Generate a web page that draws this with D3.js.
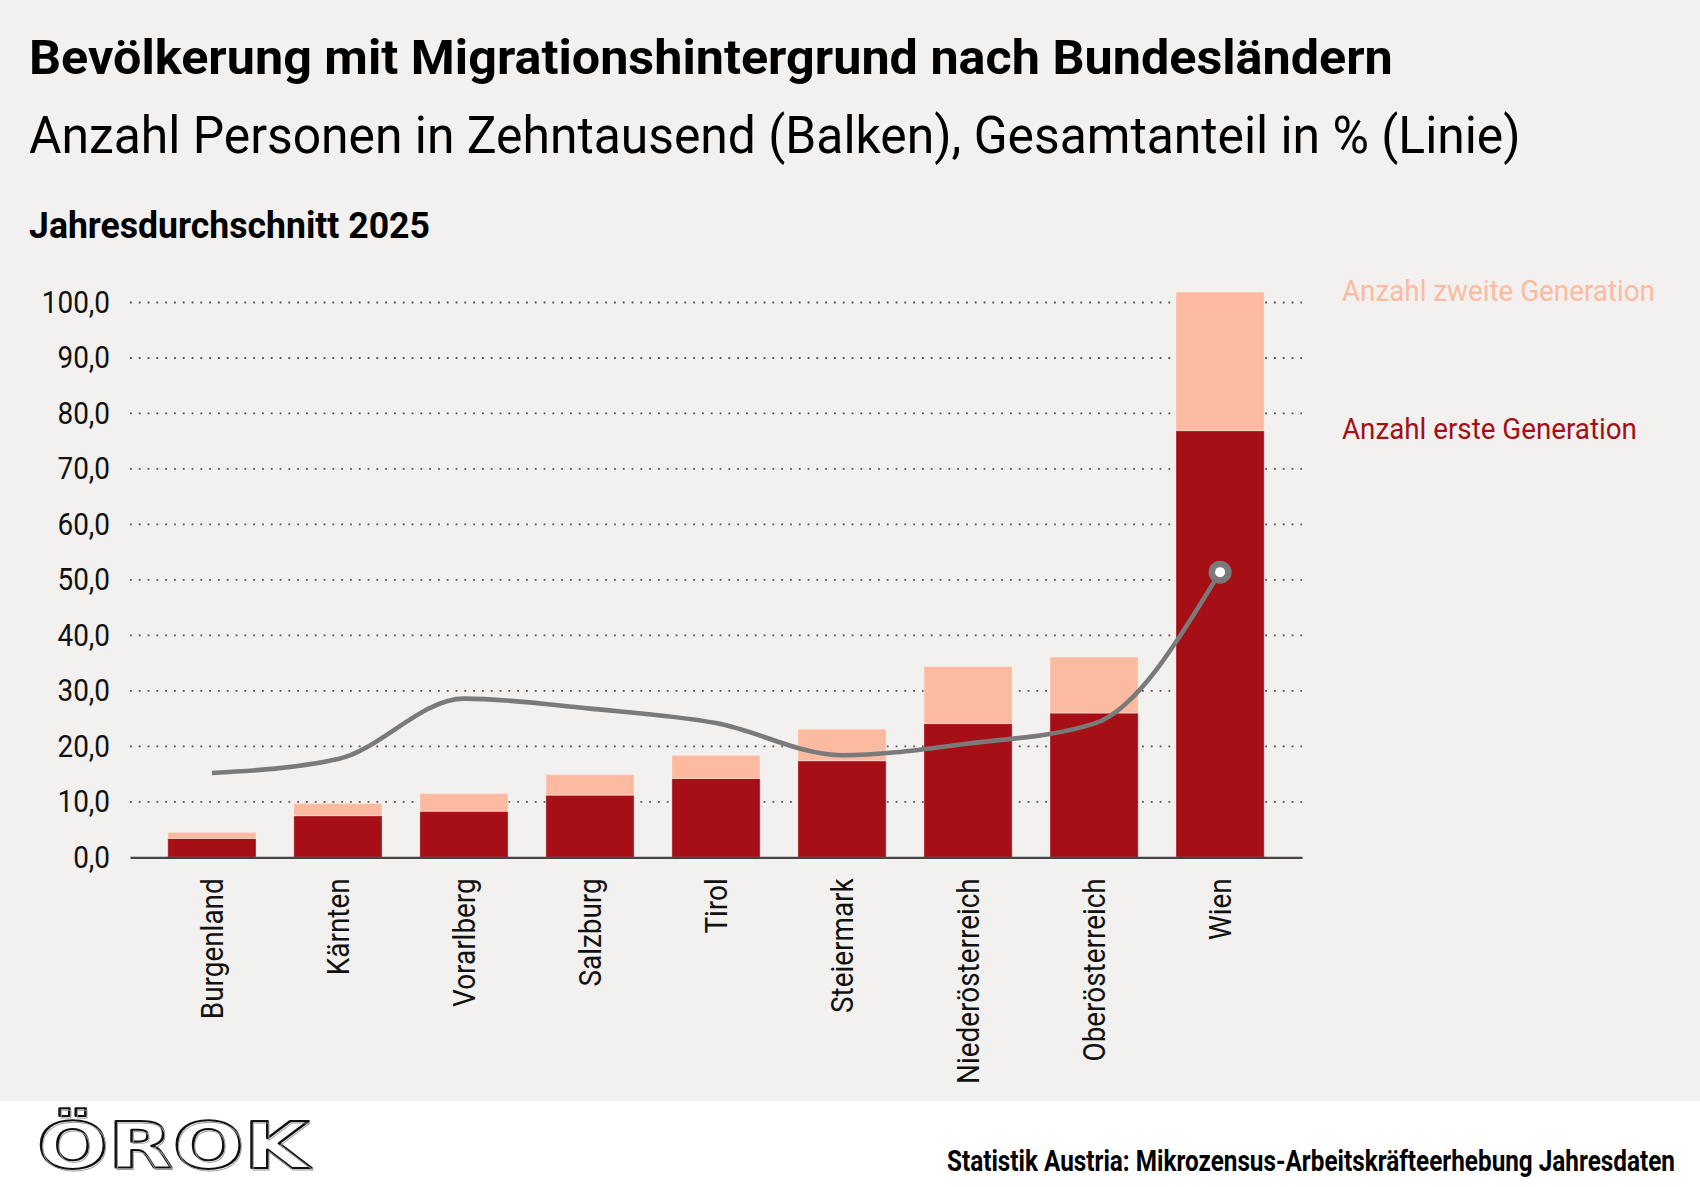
<!DOCTYPE html>
<html><head><meta charset="utf-8">
<script src="https://cdn.jsdelivr.net/npm/d3@7"></script>
<style>
html,body{margin:0;padding:0;background:#f2f1ef;}
svg{display:block;font-family:Roboto,"Noto Sans",sans-serif;}
</style></head>
<body>
<svg id="chart" width="1700" height="1187"></svg>
<script>
const categories = ["Burgenland","Kärnten","Vorarlberg","Salzburg","Tirol","Steiermark","Niederösterreich","Oberösterreich","Wien"];
const ersteGeneration = [3.4, 7.5, 8.3, 11.2, 14.2, 17.4, 24.1, 26.0, 76.9];
const zweiteGeneration = [1.1, 2.2, 3.2, 3.7, 4.2, 5.7, 10.3, 10.1, 25.0];
const gesamtanteil = [15.2, 17.7, 28.6, 26.8, 24.2, 18.4, 20.5, 24.1, 51.4];
const yTicks = [0,10,20,30,40,50,60,70,80,90,100];
const seriesNames = ["Anzahl erste Generation","Anzahl zweite Generation"];
const colors = {erste:"#a50f15", zweite:"#fcbba1", line:"#7a7a7a", bg:"#f2f1ef"};

const svg = d3.select("#chart");
svg.append("rect").attr("width",1700).attr("height",1187).attr("fill",colors.bg);
svg.append("rect").attr("x",0).attr("y",1101).attr("width",1700).attr("height",86).attr("fill","#ffffff");

function condense(sel, f){
  sel.each(function(){
    const w = this.getComputedTextLength();
    d3.select(this).attr("textLength", w*f).attr("lengthAdjust","spacingAndGlyphs");
  });
  return sel;
}
// place a text at (x,y) and scale it horizontally to a target width
function fitText(sel, x, y, w){
  sel.each(function(){
    const n = this.getComputedTextLength();
    d3.select(this).attr("x",0).attr("y",0)
      .attr("transform",`translate(${x},${y}) scale(${w/n},1)`);
  });
  return sel;
}

// Titles
fitText(svg.append("text").attr("font-size",49).attr("font-weight",700).attr("fill","#000")
  .text("Bevölkerung mit Migrationshintergrund nach Bundesländern"),29,74,1364);
fitText(svg.append("text").attr("font-size",51).attr("font-weight",400).attr("fill","#000")
  .text("Anzahl Personen in Zehntausend (Balken), Gesamtanteil in % (Linie)"),29,153,1492);
fitText(svg.append("text").attr("font-size",37).attr("font-weight",700).attr("fill","#000")
  .text("Jahresdurchschnitt 2025"),29,238,401);

// Scales
const x = d3.scaleBand().domain(categories).range([130,1302]).padding(0.3);
const y = d3.scaleLinear().domain([0,100]).range([857.3,302.5]);

// Gridlines
const g = svg.append("g");
g.selectAll("line.grid").data(yTicks.filter(d=>d>0)).join("line")
  .attr("class","grid")
  .attr("x1",130).attr("x2",1302)
  .attr("y1",d=>y(d)).attr("y2",d=>y(d))
  .attr("stroke","#555").attr("stroke-width",1.8).attr("stroke-dasharray","1.8,7");

// Y axis
const yAxis = g.append("g").attr("transform","translate(130,0)")
  .call(d3.axisLeft(y).tickValues(yTicks).tickSize(0).tickPadding(20)
    .tickFormat(d=>d3.format(".1f")(d).replace(".",",")));
yAxis.select(".domain").remove();
yAxis.selectAll("text").attr("font-size",31).attr("font-family","Roboto").attr("fill","#111");
condense(yAxis.selectAll("text"),0.9);

// Stacked bars
const rows = categories.map((c,i)=>({cat:c, erste:ersteGeneration[i], zweite:zweiteGeneration[i]}));
const stack = d3.stack().keys(["erste","zweite"])(rows);
g.selectAll("g.series").data(stack).join("g").attr("class","series")
  .attr("fill",d=>colors[d.key])
  .selectAll("rect").data(d=>d).join("rect")
  .attr("x",d=>x(d.data.cat)).attr("width",x.bandwidth())
  .attr("y",d=>y(d[1])).attr("height",d=>y(d[0])-y(d[1]))
  .attr("stroke","rgba(255,255,255,0.35)").attr("stroke-width",1);

// X axis
const xAxis = g.append("g").attr("transform","translate(0,857.3)")
  .call(d3.axisBottom(x).tickSize(0).tickPadding(0));
xAxis.select(".domain").attr("stroke","#444").attr("stroke-width",2.2);
xAxis.selectAll(".tick text")
  .attr("font-size",31).attr("font-family","Roboto").attr("fill","#111")
  .attr("text-anchor","end").attr("transform","translate(0,21) rotate(-90)")
  .attr("x",0).attr("y",0).attr("dy","0.35em");
condense(xAxis.selectAll(".tick text"),0.9);

// Line
const cx = d => x(d) + x.bandwidth()/2;
const lineData = categories.map((c,i)=>({cat:c, v:gesamtanteil[i]}));
const line = d3.line().x(d=>cx(d.cat)).y(d=>y(d.v)).curve(d3.curveMonotoneX);
g.append("path").datum(lineData).attr("d",line).attr("fill","none")
  .attr("stroke",colors.line).attr("stroke-width",4.6).attr("stroke-linecap","butt");
const last = lineData[lineData.length-1];
g.append("circle").attr("cx",cx(last.cat)).attr("cy",y(last.v)).attr("r",11.5).attr("fill",colors.line);
g.append("circle").attr("cx",cx(last.cat)).attr("cy",y(last.v)).attr("r",5).attr("fill","#fff");

// Legend
fitText(svg.append("text").attr("font-size",30).attr("fill",colors.zweite)
  .text(seriesNames[1]),1342,301,313);
fitText(svg.append("text").attr("font-size",30).attr("fill",colors.erste)
  .text(seriesNames[0]),1342,439,295);

// Footer
const logo = svg.append("g");
logo.append("text").attr("x",37).attr("y",1168).attr("font-family","DejaVu Sans").attr("font-weight",700)
  .attr("font-size",64).attr("fill","#fff").attr("stroke","#111").attr("stroke-width",2.2)
  .attr("stroke-linejoin","round").attr("textLength",272).attr("lengthAdjust","spacingAndGlyphs").text("ÖROK");
logo.append("text").attr("x",37).attr("y",1168).attr("font-family","DejaVu Sans").attr("font-weight",700)
  .attr("font-size",64).attr("fill","none").attr("stroke","#999").attr("stroke-width",0.8)
  .attr("transform","translate(1.5,1.5)")
  .attr("textLength",272).attr("lengthAdjust","spacingAndGlyphs").text("ÖROK");

fitText(svg.append("text").attr("font-size",30).attr("font-weight",700).attr("fill","#000")
  .text("Statistik Austria: Mikrozensus-Arbeitskräfteerhebung Jahresdaten"),947,1171,728);
</script>
</body></html>
